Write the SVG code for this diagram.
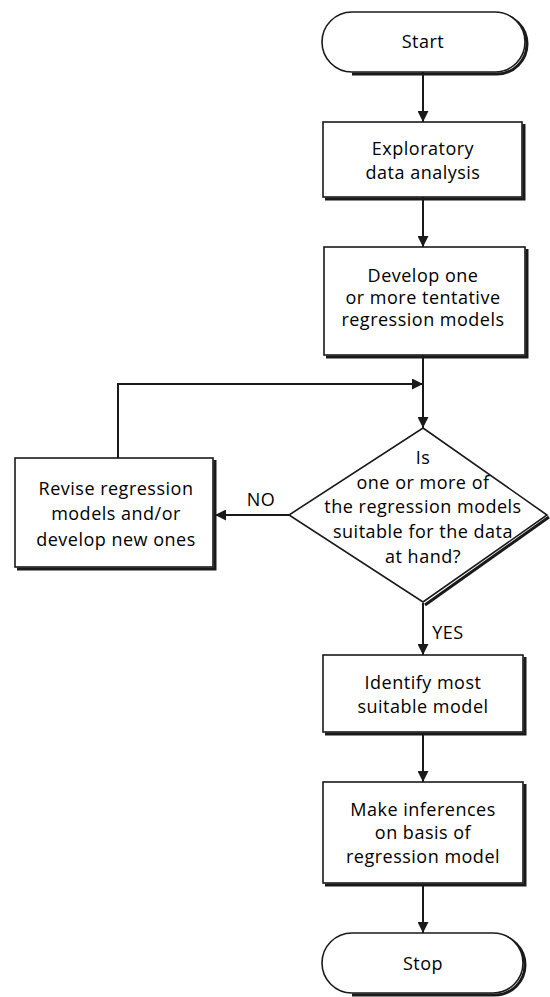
<svg xmlns="http://www.w3.org/2000/svg" width="550" height="997" viewBox="0 0 550 997">
<defs>
<style>
.box{fill:#fff;stroke:#1a1a1a;stroke-width:1.6}
.sh{fill:none;stroke:#1a1a1a;stroke-width:3}
.ln{fill:none;stroke:#1a1a1a;stroke-width:2}
text{font-family:"Open Sans","DejaVu Sans",sans-serif;font-size:18px;letter-spacing:0.5px;fill:#000;text-anchor:middle}
</style>
<marker id="ah" viewBox="0 0 10 10" refX="10" refY="5" markerWidth="5.5" markerHeight="5.5" orient="auto" markerUnits="strokeWidth">
<path d="M0,0 L10,5 L0,10 z" fill="#1a1a1a"/>
</marker>
</defs>
<rect width="550" height="997" fill="#fff"/>
<g id="connectors">
<path class="ln" d="M423,72 V122" marker-end="url(#ah)"/>
<path class="ln" d="M423,197 V247" marker-end="url(#ah)"/>
<path class="ln" d="M423,355 V428" marker-end="url(#ah)"/>
<path class="ln" d="M118,458 V384 H423" marker-end="url(#ah)"/>
<path class="ln" d="M289,515 H215" marker-end="url(#ah)"/>
<path class="ln" d="M423,603 V655" marker-end="url(#ah)"/>
<path class="ln" d="M423,733 V782" marker-end="url(#ah)"/>
<path class="ln" d="M423,884 V933" marker-end="url(#ah)"/>
<text x="261" y="506">NO</text>
<text x="448" y="639">YES</text>
</g>
<g id="start">
<path class="sh" d="M497,14 A30,30 0 0 1 497,74 H352"/>
<rect class="box" x="322" y="12" width="203" height="60" rx="30" ry="30"/>
<text x="423" y="48">Start</text>
</g>
<g id="exploratory">
<path class="sh" d="M524,124 V199 H325"/>
<rect class="box" x="323" y="122" width="199" height="75"/>
<text x="423" y="155">Exploratory</text>
<text x="423" y="179">data analysis</text>
</g>
<g id="develop">
<path class="sh" d="M527,249 V357 H326"/>
<rect class="box" x="324" y="247" width="201" height="108"/>
<text x="423" y="282">Develop one</text>
<text x="423" y="304">or more tentative</text>
<text x="423" y="326">regression models</text>
</g>
<g id="decision">
<path class="sh" d="M549,517 L425,605"/>
<polygon class="box" points="423,428 547,515 423,602 289,515"/>
<text x="423" y="464">Is</text>
<text x="423" y="489">one or more of</text>
<text x="423" y="513">the regression models</text>
<text x="423" y="538">suitable for the data</text>
<text x="423" y="563">at hand?</text>
</g>
<g id="revise">
<path class="sh" d="M215,460 V569 H17"/>
<rect class="box" x="15" y="458" width="198" height="109"/>
<text x="116" y="495">Revise regression</text>
<text x="116" y="520">models and/or</text>
<text x="116" y="546">develop new ones</text>
</g>
<g id="identify">
<path class="sh" d="M525,657 V734 H325"/>
<rect class="box" x="323" y="655" width="200" height="77"/>
<text x="423" y="689">Identify most</text>
<text x="423" y="713">suitable model</text>
</g>
<g id="inferences">
<path class="sh" d="M525,784 V885 H325"/>
<rect class="box" x="323" y="782" width="200" height="101"/>
<text x="423" y="816">Make inferences</text>
<text x="423" y="839">on basis of</text>
<text x="423" y="863">regression model</text>
</g>
<g id="stop">
<path class="sh" d="M495,935 A30,30 0 0 1 495,995 H352"/>
<rect class="box" x="322" y="933" width="201" height="60" rx="30" ry="30"/>
<text x="423" y="970">Stop</text>
</g>
</svg>
